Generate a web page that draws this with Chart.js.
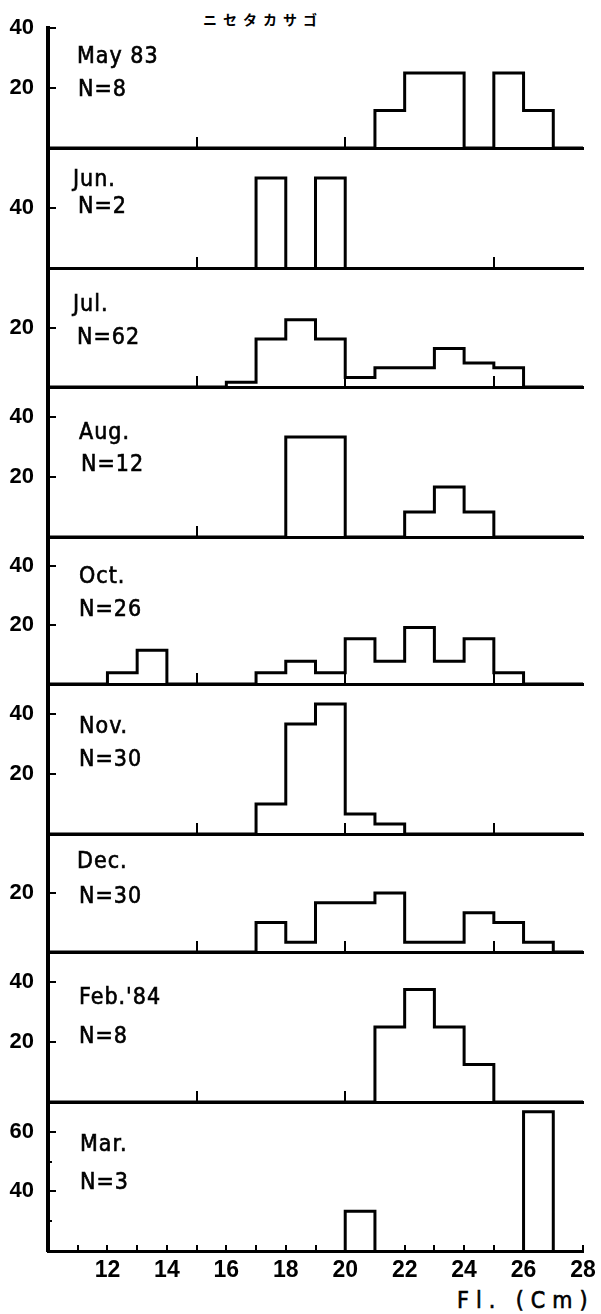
<!DOCTYPE html>
<html>
<head>
<meta charset="utf-8">
<script src="https://cdn.jsdelivr.net/npm/chart.js@4.4.0/dist/chart.umd.min.js"></script>
<style>
  body { margin: 0; background: #fff; width: 601px; height: 1314px; position: relative; overflow: hidden;
         font-family: 'DejaVu Sans Condensed', sans-serif; color: #000; }
  canvas { position: absolute; left: 0; }
  .lab { position: absolute; font-size: 23px; line-height: 27px; white-space: pre; letter-spacing: 1px;
         -webkit-text-stroke: 0.6px #000; }
  #title { position: absolute; left: 203px; top: 9px; font: bold 14px 'Noto Sans CJK JP'; letter-spacing: 6px; }
  #xtitle { position: absolute; left: 457px; top: 1287px; font-size: 23px; letter-spacing: 7px; white-space: pre;
            -webkit-text-stroke: 0.6px #000; }
</style>
</head>
<body>
<div id="title">ニセタカサゴ</div>
<div id="xtitle">Fl. (Cm)</div>
<script>
// length classes, 1 cm wide, given by lower edge
const binStart = [10, 11, 12, 13, 14, 15, 16, 17, 18, 19, 20, 21, 22, 23, 24, 25, 26, 27];
const binEnd = 28;

// percent of fish in each class
const may = [0, 0, 0, 0, 0, 0, 0, 0, 0, 0, 0, 12.5, 25, 25, 0, 25, 12.5, 0];
const jun = [0, 0, 0, 0, 0, 0, 0, 50, 0, 50, 0, 0, 0, 0, 0, 0, 0, 0];
const jul = [0, 0, 0, 0, 0, 0, 1.6, 16.1, 22.6, 16.1, 3.2, 6.5, 6.5, 12.9, 8.1, 6.5, 0, 0];
const aug = [0, 0, 0, 0, 0, 0, 0, 0, 33.3, 33.3, 0, 0, 8.3, 16.7, 8.3, 0, 0, 0];
const oct = [0, 0, 3.8, 11.5, 0, 0, 0, 3.8, 7.7, 3.8, 15.4, 7.7, 19.2, 7.7, 15.4, 3.8, 0, 0];
const nov = [0, 0, 0, 0, 0, 0, 0, 10, 36.7, 43.3, 6.7, 3.3, 0, 0, 0, 0, 0, 0];
const dec = [0, 0, 0, 0, 0, 0, 0, 10, 3.3, 16.7, 16.7, 20, 3.3, 3.3, 13.3, 10, 3.3, 0];
const feb = [0, 0, 0, 0, 0, 0, 0, 0, 0, 0, 0, 25, 37.5, 25, 12.5, 0, 0, 0];
const mar = [0, 0, 0, 0, 0, 0, 0, 0, 0, 0, 33.3, 0, 0, 0, 0, 0, 66.7, 0];

const months = ['May 83', 'Jun.', 'Jul.', 'Aug.', 'Oct.', 'Nov.', 'Dec.', "Feb.'84", 'Mar.'];
const sizes = ['N=8', 'N=2', 'N=62', 'N=12', 'N=26', 'N=30', 'N=30', 'N=8', 'N=3'];

// y range of every panel and the tick values that carry a number
const yMin = [0, 20, 0, 0, 0, 0, 0, 0, 20];
const yMax = [40, 60, 40, 50, 50, 50, 40, 50, 70];
const yLabels = [[20, 40], [40], [20], [20, 40], [20, 40], [20, 40], [20], [20, 40], [40, 60]];
const upperTicks = [15, 20, 25];
const xLabels = [12, 14, 16, 18, 20, 22, 24, 26, 28];

// page layout (pixels)
const panelTop = [28, 148, 268, 387, 537, 684, 834, 952, 1102];
const panelBottom = [148, 268, 387, 537, 684, 834, 952, 1102, 1251];
const labTop = [[47, 80], [170, 197], [295, 328], [423, 455], [567, 600], [717, 750], [852, 887], [988, 1027], [1135, 1173]];
const labLeft = [[77, 78], [73, 78], [73, 77], [79, 81], [79, 79], [79, 79], [77, 79], [79, 79], [80, 80]];

const series = [may, jun, jul, aug, oct, nov, dec, feb, mar];

// drop the label-driven padding so the plot area sits where the layout says
const noPad = (s) => { s.paddingTop = 0; s.paddingBottom = 0; s.paddingLeft = 0; s.paddingRight = 0; };

series.forEach((vals, i) => {
  const last = i === series.length - 1;
  const T = panelTop[i], B = panelBottom[i];
  const padTop = 14;
  const xh = last ? 50 : 2;
  const padBottom = last ? 0 : 2;

  const cv = document.createElement('canvas');
  cv.width = 601;
  cv.height = B - T + padTop + xh + padBottom;
  cv.style.top = (T - padTop) + 'px';
  document.body.appendChild(cv);

  // outline of the histogram
  const pts = binStart.map((x, k) => ({ x: x, y: vals[k] }));
  pts.push({ x: binEnd, y: 0 });

  const labelled = yLabels[i];

  new Chart(cv, {
    type: 'line',
    data: {
      datasets: [{
        data: pts,
        stepped: 'before',
        borderColor: '#000',
        borderWidth: 3,
        borderJoinStyle: 'miter',
        pointRadius: 0,
        fill: false
      }]
    },
    options: {
      responsive: false,
      animation: false,
      events: [],
      layout: { padding: { top: padTop, right: 18, bottom: padBottom, left: 0 } },
      plugins: { legend: { display: false }, tooltip: { enabled: false } },
      scales: {
        x: {
          type: 'linear',
          min: 10,
          max: 28,
          afterFit: (s) => { s.height = xh; noPad(s); },
          afterBuildTicks: (s) => {
            if (!last) s.ticks = upperTicks.map((v) => ({ value: v }));
          },
          grid: { drawOnChartArea: false, drawTicks: true, tickLength: last ? -6 : -11, color: '#000', lineWidth: 2 },
          border: { color: '#000', width: 3 },
          ticks: {
            display: last,
            stepSize: 1,
            autoSkip: false,
            maxRotation: 0,
            padding: 12,
            color: '#000',
            font: { size: 23, weight: 'bold' },
            callback: (v) => (xLabels.includes(v) ? String(v) : '')
          }
        },
        y: {
          min: yMin[i],
          max: yMax[i],
          afterFit: (s) => { s.width = 48; noPad(s); },
          grid: {
            drawOnChartArea: false,
            tickLength: -8,
            color: '#000',
            lineWidth: 2,
            tickBorderDash: (ctx) => (labelled.includes(ctx.tick.value) ? [] : [0, 4, 4, 100])
          },
          border: { color: '#000', width: 4 },
          ticks: {
            stepSize: 10,
            padding: 22,
            color: '#000',
            font: { size: 22, weight: 'bold' },
            callback: (v) => (labelled.includes(v) ? String(v) : '')
          }
        }
      }
    }
  });

  // month and sample size
  [months[i], sizes[i]].forEach((txt, j) => {
    const d = document.createElement('div');
    d.className = 'lab';
    d.textContent = txt;
    d.style.left = labLeft[i][j] + 'px';
    d.style.top = (labTop[i][j] - 5) + 'px';
    document.body.appendChild(d);
  });
});
</script>
</body>
</html>
